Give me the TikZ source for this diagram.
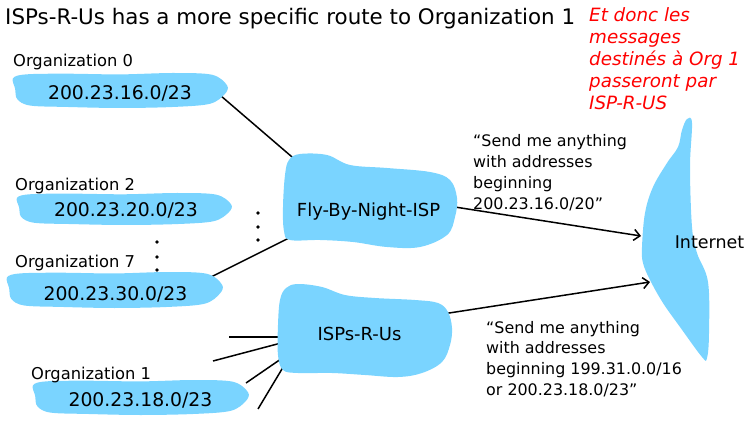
\documentclass[tikz,border=0pt]{standalone}
\usepackage{fontspec}
\setmainfont{DejaVu Sans}
\usetikzlibrary{arrows.meta,calc}
\definecolor{blobc}{RGB}{122,212,255}
\pgfdeclarelayer{bg}
\pgfsetlayers{bg,main}
\newcommand\orgblob[4]{%
  \fill[blobc, shift={(#1,#2)}, xscale=#3, yscale=#4]
    plot[smooth cycle, tension=0.55] coordinates {(0.0,0.15) (0.06,0.04) (0.25,0.02) (0.5,0.04) (0.75,0.0) (0.93,0.05) (1.0,0.35) (0.99,0.6) (0.92,0.88) (0.75,0.97) (0.5,1.0) (0.25,0.97) (0.08,0.93) (0.02,0.75) (0.01,0.45)};}
\begin{document}
\begin{tikzpicture}[x=1pt, y=-1pt,
  txt/.style={inner sep=0pt, anchor=base},
  lab/.style={inner sep=0pt, anchor=base west, font=\fontsize{16.3}{20}\selectfont},
  ip/.style={txt, font=\fontsize{18.8}{22}\selectfont},
  isp/.style={txt, font=\fontsize{18}{22}\selectfont},
  conn/.style={line width=1.5pt},
  arr/.style={conn, -{Straight Barb[length=6pt,width=11pt]}},
  dot/.style={fill=black}]
\useasboundingbox (0,0) rectangle (749,430);
% blobs
\orgblob{13}{73}{214}{35}
\orgblob{17}{193}{214}{32}
\orgblob{7}{272}{215}{36}
\orgblob{33}{380}{215}{35}
\fill[blobc] plot[smooth cycle, tension=0.6] coordinates {(289,160) (300,154) (327,155) (350,165) (387,168) (430,172) (450,180) (457,198) (455,217) (447,235) (420,247) (387,247) (353,242) (320,240) (290,240) (284,231) (283,207) (285,175)};
\fill[blobc] plot[smooth cycle, tension=0.6] coordinates {(286,288) (298,284) (322,287) (345,295) (375,298) (415,300) (438,303) (448,312) (452,328) (450,345) (442,362) (422,373) (398,377) (365,375) (332,373) (298,373) (283,370) (278,355) (278,325) (280,300)};
\fill[blobc] plot[smooth cycle, tension=0.6] coordinates {(687,119) (692,123) (690,167) (692,227) (697,253) (708,282) (709,333) (707,358) (702,357) (680,327) (663,303) (650,280) (643,263) (642,247) (645,213) (653,187) (667,163) (678,147) (682,130)};
% texts
\node[inner sep=0pt, anchor=base west, font=\fontsize{21.4}{26}\selectfont] (title) at (5,25) {ISPs-R-Us has a more specific route to Organization 1};
\node[inner sep=0pt, anchor=base west, text=red, font=\fontsize{18.3}{22}\selectfont\itshape] (note) at (589,22) {\begin{tabular}[t]{@{}l@{}}Et donc les\\messages\\destinés à Org 1\\passeront par\\ISP-R-US\end{tabular}};
\node[lab] (l0) at (13,67) {Organization 0};
\node[lab] (l2) at (15,191) {Organization 2};
\node[lab] (l7) at (15,268) {Organization 7};
\node[lab] (l1) at (31,379) {Organization 1};
\node[ip] (o0) at (120,100) {200.23.16.0/23};
\node[ip] (o2) at (126,217) {200.23.20.0/23};
\node[ip] (o7) at (115.5,300) {200.23.30.0/23};
\node[ip] (o1) at (140.5,406) {200.23.18.0/23};
\node[isp] (fly) at (368.5,217) {Fly-By-Night-ISP};
\node[isp] (isps) at (359.5,340) {ISPs-R-Us};
\node[txt, font=\fontsize{17.5}{22}\selectfont] (inet) at (709.5,248) {Internet};
\node[inner sep=0pt, anchor=base west, font=\fontsize{15.9}{21}\selectfont] (adv1) at (473,147) {\begin{tabular}[t]{@{}l@{}}“Send me anything\\with addresses\\beginning\\200.23.16.0/20”\end{tabular}};
\node[inner sep=0pt, anchor=base west, font=\fontsize{15.9}{20.7}\selectfont] (adv2) at (486,333) {\begin{tabular}[t]{@{}l@{}}“Send me anything\\with addresses\\beginning 199.31.0.0/16\\or 200.23.18.0/23”\end{tabular}};
% dots
\fill[dot] (157,242) circle (1.8) (157,257) circle (1.8) (157,270) circle (1.8);
\fill[dot] (258,213) circle (1.8) (258,227) circle (1.8) (258,240) circle (1.8);
% connectors
\coordinate (s1) at (229,337);
\coordinate (s2) at (213,361);
\coordinate (s3) at (246,383);
\coordinate (s4) at (258,409);
\begin{pgfonlayer}{bg}
\draw[conn] ($(o0.base)+(90,-13.5)$) -- ($(fly.base)+(-48.5,-36)$);
\draw[conn] ($(o7.base)+(84.5,-17.5)$) -- ($(fly.base)+(-61.5,12)$);
\draw[arr] ($(fly.base)+(46.5,-16.2)$) -- ($(inet.base)+(-68.5,-12)$);
\draw[arr] ($(isps.base)+(49.5,-20.8)$) -- ($(inet.base)+(-59.5,34)$);
\draw[conn] (s1) -- ($(isps.base)+(-59.5,-3)$);
\draw[conn] (s2) -- ($(isps.base)+(-59.5,-2)$);
\draw[conn] (s3) -- ($(isps.base)+(-59.5,5.9)$);
\draw[conn] (s4) -- ($(isps.base)+(-65.5,9)$);
\end{pgfonlayer}
\end{tikzpicture}
\end{document}
